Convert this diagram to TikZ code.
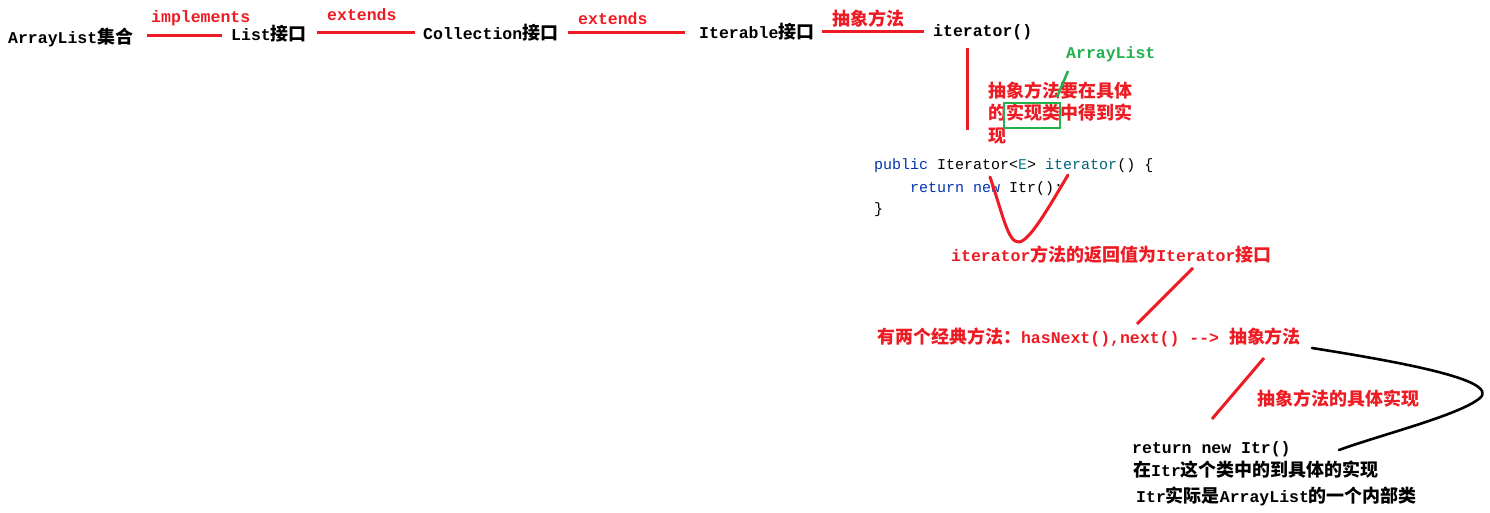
\documentclass[tikz,border=0pt]{standalone}
\usepackage{fontspec}
\setmainfont{Liberation Mono}
\newfontfamily\cjkf{Noto Sans CJK SC}[Scale=1.09]
\newcommand\zh[1]{{\cjkf #1}}
\definecolor{pred}{RGB}{237,28,36}
\definecolor{pgreen}{RGB}{34,177,76}
\definecolor{kwblue}{RGB}{0,51,179}
\definecolor{mteal}{RGB}{0,98,122}
\definecolor{tpteal}{RGB}{0,126,138}
\begin{document}
\begin{tikzpicture}[x=1pt,y=-1pt,
  txt/.style={anchor=base west,inner sep=0pt,font=\bfseries\fontsize{16.5}{18}\selectfont},
  rtxt/.style={txt,text=pred},
  gtxt/.style={txt,text=pgreen},
  code/.style={anchor=base west,inner sep=0pt,font=\fontsize{15}{18}\selectfont},
  redstroke/.style={draw=pred,line width=3pt},
  greenstroke/.style={draw=pgreen,line width=2.5pt},
  blackstroke/.style={draw=black,line width=2.6pt,line cap=round}]
\useasboundingbox (0,0) rectangle (1490,513);
% top row
\node[txt] (al) at (8,44) {ArrayList\zh{集合}};
\node[rtxt] (impl) at (151,23) {implements};
\node[txt] (list) at (231,41) {List\zh{接口}};
\node[rtxt] (ext1) at (327,21) {extends};
\node[txt] (coll) at (423,40) {Collection\zh{接口}};
\node[rtxt] (ext2) at (578,25) {extends};
\node[txt] (iter) at (699,39) {Iterable\zh{接口}};
\node[rtxt] (abs1) at (832,26) {\zh{抽象方法}};
\node[txt] (itm) at (933,37) {iterator()};
\coordinate (l1a) at (147,36); \coordinate (l1b) at (222,36);
\coordinate (l2a) at (317,33); \coordinate (l2b) at (415,33);
\coordinate (l3a) at (568,33); \coordinate (l3b) at (685,33);
\coordinate (l4a) at (822,32); \coordinate (l4b) at (924,32);
\draw[redstroke] (l1a) -- (l1b);
\draw[redstroke] (l2a) -- (l2b);
\draw[redstroke] (l3a) -- (l3b);
\draw[redstroke] (l4a) -- (l4b);
% vertical red line
\coordinate (va) at (967,48); \coordinate (vb) at (967,130);
\draw[redstroke] (va) -- (vb);
% green annotation
\node[gtxt] (gal) at (1066,59) {ArrayList};
\node[rtxt] (n1) at (988,98) {\zh{抽象方法要在具体}};
\node[rtxt] (n2) at (988,120) {\zh{的实现类中得到实}};
\node[rtxt] (n3) at (988,143) {\zh{现}};
\coordinate (ga) at (1068,71); \coordinate (gb) at (1057,97);
\draw[greenstroke] (ga) -- (gb);
\coordinate (ra) at (1004,103); \coordinate (rb) at (1060,128);
\draw[greenstroke] (ra) rectangle (rb);
% code
\node[code] (c1) at (874,170) {\textcolor{kwblue}{public} Iterator<\textcolor{tpteal}{E}> \textcolor{mteal}{iterator}() \{};
\node[code] (c2) at (910,193) {\textcolor{kwblue}{return new} Itr();};
\node[code] (c3) at (874,214) {\}};
% red V curve
\coordinate (va1) at (990,177); \coordinate (vbot) at (1019,242); \coordinate (vc1) at (1068,175);
\draw[redstroke,line cap=round] (va1) .. controls (1003,215) and (1008,243) .. (vbot) .. controls (1030,241) and (1050,205) .. (vc1);
\node[rtxt] (ret) at (951,261) {iterator\zh{方法的返回值为}Iterator\zh{接口}};
\coordinate (s1a) at (1193,268); \coordinate (s1b) at (1137,324);
\draw[redstroke] (s1a) -- (s1b);
\node[rtxt] (two) at (877,343) {\zh{有两个经典方法：}hasNext(),next() -{}-> \zh{抽象方法}};
% black loop
\coordinate (ba) at (1312,348); \coordinate (bt) at (1480,398); \coordinate (bb) at (1339,450);
\draw[blackstroke] (ba) .. controls (1400,362) and (1500,380) .. (bt) .. controls (1460,415) and (1380,435) .. (bb);
\coordinate (s2a) at (1264,358); \coordinate (s2b) at (1212,419);
\draw[redstroke] (s2a) -- (s2b);
\node[rtxt] (impl2) at (1257,405) {\zh{抽象方法的具体实现}};
% bottom text
\node[txt] (b1) at (1132,453) {return new Itr()};
\node[txt] (b2) at (1133,476) {\zh{在}Itr\zh{这个类中的到具体的实现}};
\node[txt] (b3) at (1136,502) {Itr\zh{实际是}ArrayList\zh{的一个内部类}};
\end{tikzpicture}
\end{document}
